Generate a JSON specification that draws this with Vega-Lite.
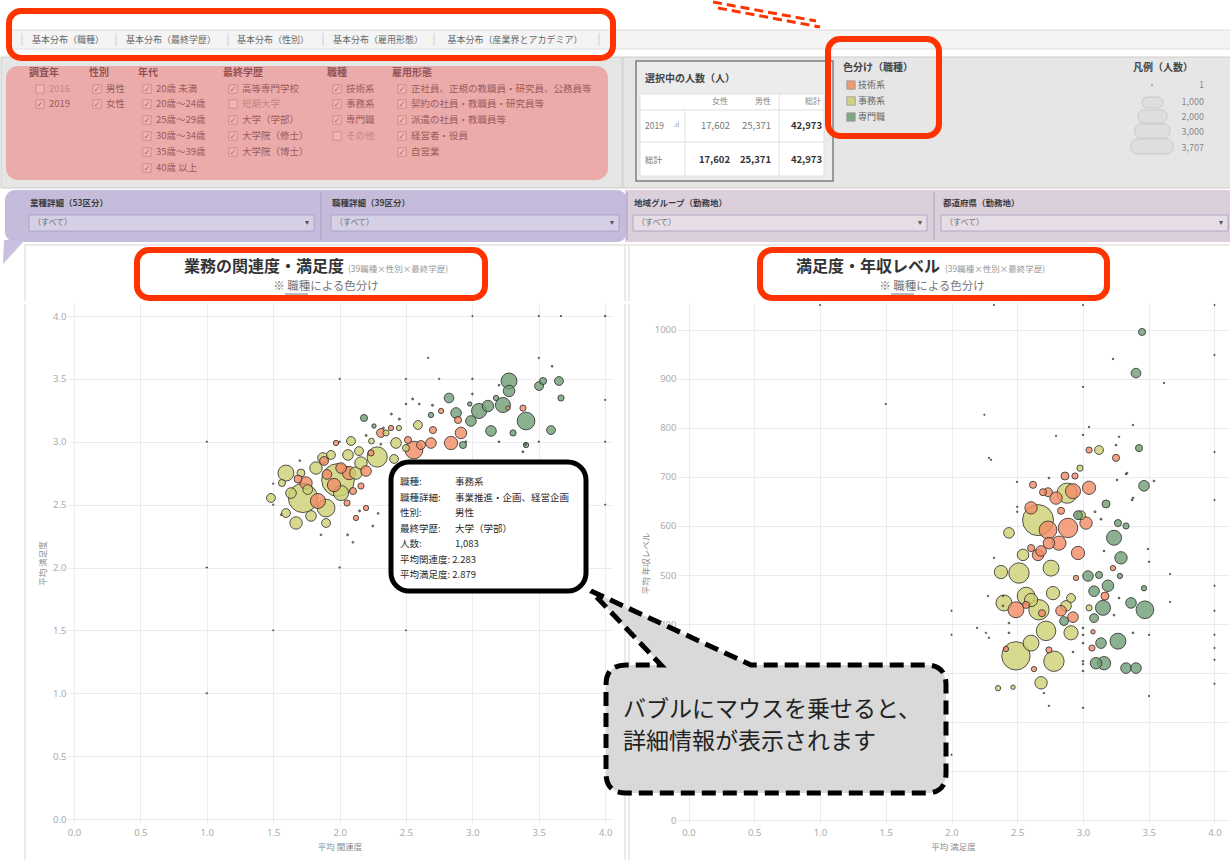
{
"$schema": "https://vega.github.io/schema/vega-lite/v6.json",
"padding": 0,
"background": "white",
"spacing": 0,
"config": {
  "view": {"stroke": null},
  "font": "Noto Sans CJK JP",
  "axis": {"domain": false, "ticks": false, "grid": true, "gridColor": "#ececec", "labelColor": "#ababab", "labelFont": "Noto Sans", "labelFontSize": 9.5, "labelOverlap": false, "titleColor": "#8a8a8a", "titleFontSize": 8.5, "titleFontWeight": "normal", "titleFont": "Noto Sans CJK JP"}
},
"datasets": {
  "filters": [
    {"x":48,"y":87,"t":"2016","on":"n"},
    {"x":48,"y":102,"t":"2019","on":"y"},
    {"x":105,"y":87,"t":"男性","on":"y"},
    {"x":105,"y":102,"t":"女性","on":"y"},
    {"x":155,"y":87,"t":"20歳 未満","on":"y"},
    {"x":155,"y":102,"t":"20歳～24歳","on":"y"},
    {"x":155,"y":118,"t":"25歳～29歳","on":"y"},
    {"x":155,"y":134,"t":"30歳～34歳","on":"y"},
    {"x":155,"y":150,"t":"35歳～39歳","on":"y"},
    {"x":155,"y":166,"t":"40歳 以上","on":"y"},
    {"x":241,"y":87,"t":"高等専門学校","on":"y"},
    {"x":241,"y":102,"t":"短期大学","on":"n"},
    {"x":241,"y":118,"t":"大学（学部）","on":"y"},
    {"x":241,"y":134,"t":"大学院（修士）","on":"y"},
    {"x":241,"y":150,"t":"大学院（博士）","on":"y"},
    {"x":345,"y":87,"t":"技術系","on":"y"},
    {"x":345,"y":102,"t":"事務系","on":"y"},
    {"x":345,"y":118,"t":"専門職","on":"y"},
    {"x":345,"y":134,"t":"その他","on":"n"},
    {"x":410,"y":87,"t":"正社員、正規の教職員・研究員、公務員等","on":"y"},
    {"x":410,"y":102,"t":"契約の社員・教職員・研究員等","on":"y"},
    {"x":410,"y":118,"t":"派遣の社員・教職員等","on":"y"},
    {"x":410,"y":134,"t":"経営者・役員","on":"y"},
    {"x":410,"y":150,"t":"自営業","on":"y"}
  ],
  "left": [
    {"job":"事務系","rel":1.724,"sat":2.553,"n":2265},
    {"job":"事務系","rel":1.988,"sat":2.696,"n":2847},
    {"job":"事務系","rel":2.011,"sat":2.592,"n":601},
    {"job":"事務系","rel":1.785,"sat":2.41,"n":300},
    {"job":"事務系","rel":2.063,"sat":2.895,"n":300},
    {"job":"事務系","rel":2.146,"sat":2.926,"n":208},
    {"job":"事務系","rel":2.283,"sat":2.879,"n":1083},
    {"job":"事務系","rel":2.59,"sat":3.133,"n":208},
    {"job":"事務系","rel":2.349,"sat":3.07,"n":102},
    {"job":"事務系","rel":2.447,"sat":3.109,"n":75},
    {"job":"事務系","rel":1.875,"sat":2.871,"n":300},
    {"job":"事務系","rel":1.935,"sat":2.895,"n":208},
    {"job":"事務系","rel":1.634,"sat":2.592,"n":300},
    {"job":"事務系","rel":1.596,"sat":2.433,"n":208},
    {"job":"事務系","rel":1.822,"sat":2.791,"n":408},
    {"job":"事務系","rel":2.123,"sat":2.751,"n":408},
    {"job":"事務系","rel":1.898,"sat":2.354,"n":208},
    {"job":"事務系","rel":1.709,"sat":2.751,"n":168},
    {"job":"事務系","rel":2.41,"sat":2.863,"n":208},
    {"job":"事務系","rel":2.5,"sat":2.95,"n":133},
    {"job":"事務系","rel":1.566,"sat":2.672,"n":133},
    {"job":"事務系","rel":2.24,"sat":3.005,"n":90},
    {"job":"事務系","rel":1.76,"sat":2.62,"n":250},
    {"job":"事務系","rel":1.596,"sat":2.751,"n":674},
    {"job":"事務系","rel":1.898,"sat":2.473,"n":832},
    {"job":"事務系","rel":1.672,"sat":2.354,"n":408},
    {"job":"事務系","rel":2.161,"sat":2.831,"n":408},
    {"job":"事務系","rel":2.425,"sat":2.99,"n":300},
    {"job":"事務系","rel":2.086,"sat":3.006,"n":208},
    {"job":"事務系","rel":1.483,"sat":2.553,"n":208},
    {"job":"技術系","rel":1.837,"sat":2.529,"n":601},
    {"job":"技術系","rel":1.958,"sat":2.656,"n":468},
    {"job":"技術系","rel":2.071,"sat":2.751,"n":468},
    {"job":"技術系","rel":1.883,"sat":2.847,"n":208},
    {"job":"技術系","rel":2.199,"sat":2.767,"n":300},
    {"job":"技術系","rel":1.687,"sat":2.704,"n":168},
    {"job":"技術系","rel":2.101,"sat":2.608,"n":133},
    {"job":"技術系","rel":2.161,"sat":2.648,"n":102},
    {"job":"技術系","rel":2.236,"sat":2.911,"n":102},
    {"job":"技術系","rel":2.56,"sat":2.934,"n":832},
    {"job":"技術系","rel":2.515,"sat":3.014,"n":133},
    {"job":"技術系","rel":2.613,"sat":2.974,"n":208},
    {"job":"技術系","rel":2.764,"sat":3.245,"n":75},
    {"job":"技術系","rel":2.839,"sat":2.99,"n":468},
    {"job":"技術系","rel":2.914,"sat":3.07,"n":352},
    {"job":"技術系","rel":2.892,"sat":3.173,"n":133},
    {"job":"技術系","rel":3.381,"sat":3.268,"n":102},
    {"job":"技術系","rel":3.268,"sat":3.268,"n":52},
    {"job":"技術系","rel":2.387,"sat":3.109,"n":75},
    {"job":"技術系","rel":1.973,"sat":2.99,"n":75},
    {"job":"技術系","rel":2.056,"sat":2.513,"n":102},
    {"job":"技術系","rel":2.123,"sat":2.394,"n":75},
    {"job":"技術系","rel":2.199,"sat":2.473,"n":75},
    {"job":"技術系","rel":2.703,"sat":3.093,"n":133},
    {"job":"技術系","rel":1.905,"sat":2.74,"n":250},
    {"job":"技術系","rel":1.747,"sat":2.672,"n":408},
    {"job":"技術系","rel":2.011,"sat":2.791,"n":300},
    {"job":"技術系","rel":2.688,"sat":2.99,"n":300},
    {"job":"技術系","rel":2.312,"sat":3.07,"n":208},
    {"job":"専門職","rel":3.276,"sat":3.483,"n":674},
    {"job":"専門職","rel":3.276,"sat":3.404,"n":352},
    {"job":"専門職","rel":3.502,"sat":3.443,"n":208},
    {"job":"専門職","rel":3.532,"sat":3.483,"n":133},
    {"job":"専門職","rel":3.652,"sat":3.483,"n":208},
    {"job":"専門職","rel":3.667,"sat":3.348,"n":102},
    {"job":"専門職","rel":2.824,"sat":3.348,"n":250},
    {"job":"専門職","rel":3.05,"sat":3.245,"n":601},
    {"job":"専門職","rel":3.117,"sat":3.284,"n":352},
    {"job":"専門職","rel":3.23,"sat":3.292,"n":601},
    {"job":"専門職","rel":2.989,"sat":3.165,"n":300},
    {"job":"専門職","rel":3.404,"sat":3.165,"n":832},
    {"job":"専門職","rel":3.14,"sat":3.086,"n":300},
    {"job":"専門職","rel":3.592,"sat":3.093,"n":208},
    {"job":"専門職","rel":2.929,"sat":2.974,"n":133},
    {"job":"専門職","rel":2.184,"sat":3.189,"n":133},
    {"job":"専門職","rel":2.259,"sat":3.125,"n":52},
    {"job":"専門職","rel":3.404,"sat":2.974,"n":75},
    {"job":"専門職","rel":3.306,"sat":3.07,"n":102},
    {"job":"専門職","rel":3.178,"sat":3.348,"n":75},
    {"job":"専門職","rel":2.688,"sat":3.213,"n":75},
    {"job":"専門職","rel":2.98,"sat":3.3,"n":52},
    {"job":"専門職","rel":2.877,"sat":3.229,"n":300},
    {"job":"事務系","rel":1.0,"sat":3.0,"n":5},
    {"job":"技術系","rel":1.0,"sat":2.0,"n":5},
    {"job":"事務系","rel":2.0,"sat":2.0,"n":6},
    {"job":"技術系","rel":1.5,"sat":1.5,"n":4},
    {"job":"事務系","rel":2.5,"sat":1.5,"n":4},
    {"job":"技術系","rel":1.0,"sat":1.0,"n":5},
    {"job":"専門職","rel":2.0,"sat":3.5,"n":5},
    {"job":"事務系","rel":2.0,"sat":3.0,"n":6},
    {"job":"専門職","rel":2.5,"sat":3.5,"n":5},
    {"job":"技術系","rel":2.75,"sat":3.5,"n":5},
    {"job":"専門職","rel":3.0,"sat":3.5,"n":6},
    {"job":"専門職","rel":2.667,"sat":3.667,"n":5},
    {"job":"専門職","rel":3.5,"sat":3.667,"n":5},
    {"job":"専門職","rel":4.0,"sat":3.333,"n":5},
    {"job":"技術系","rel":4.0,"sat":3.0,"n":5},
    {"job":"事務系","rel":4.0,"sat":2.5,"n":4},
    {"job":"専門職","rel":3.0,"sat":4.0,"n":4},
    {"job":"専門職","rel":3.5,"sat":4.0,"n":5},
    {"job":"技術系","rel":3.667,"sat":4.0,"n":5},
    {"job":"専門職","rel":4.0,"sat":4.0,"n":6},
    {"job":"事務系","rel":1.5,"sat":2.667,"n":6},
    {"job":"事務系","rel":1.5,"sat":2.5,"n":6},
    {"job":"技術系","rel":1.56,"sat":2.42,"n":8},
    {"job":"事務系","rel":1.86,"sat":2.26,"n":8},
    {"job":"技術系","rel":2.06,"sat":2.26,"n":10},
    {"job":"事務系","rel":2.1,"sat":2.2,"n":8},
    {"job":"技術系","rel":2.25,"sat":2.33,"n":9},
    {"job":"専門職","rel":3.5,"sat":3.0,"n":6},
    {"job":"専門職","rel":3.4,"sat":2.98,"n":10},
    {"job":"専門職","rel":3.2,"sat":3.0,"n":8},
    {"job":"専門職","rel":3.38,"sat":2.92,"n":10},
    {"job":"専門職","rel":3.6,"sat":3.6,"n":8},
    {"job":"専門職","rel":3.2,"sat":3.45,"n":8},
    {"job":"専門職","rel":3.0,"sat":3.38,"n":8},
    {"job":"技術系","rel":2.5,"sat":3.3,"n":8},
    {"job":"技術系","rel":2.39,"sat":3.22,"n":10},
    {"job":"専門職","rel":2.6,"sat":3.3,"n":8},
    {"job":"事務系","rel":2.31,"sat":2.98,"n":10},
    {"job":"技術系","rel":2.15,"sat":2.45,"n":10},
    {"job":"事務系","rel":2.29,"sat":2.43,"n":8},
    {"job":"技術系","rel":2.38,"sat":2.5,"n":8},
    {"job":"専門職","rel":2.55,"sat":3.34,"n":10},
    {"job":"専門職","rel":2.7,"sat":3.29,"n":12},
    {"job":"技術系","rel":2.45,"sat":3.18,"n":12},
    {"job":"事務系","rel":2.33,"sat":3.11,"n":10},
    {"job":"専門職","rel":2.95,"sat":3.0,"n":10},
    {"job":"技術系","rel":2.2,"sat":3.05,"n":10},
    {"job":"事務系","rel":1.7,"sat":2.85,"n":8}
  ],
  "right": [
    {"job":"事務系","sat":2.658,"inc":612,"n":2548},
    {"job":"事務系","sat":2.879,"inc":667,"n":1083},
    {"job":"事務系","sat":2.977,"inc":718,"n":102},
    {"job":"事務系","sat":3.122,"inc":755,"n":208},
    {"job":"事務系","sat":2.49,"inc":335,"n":2130},
    {"job":"事務系","sat":2.605,"inc":361,"n":674},
    {"job":"事務系","sat":2.779,"inc":324,"n":1100},
    {"job":"事務系","sat":2.719,"inc":386,"n":1007},
    {"job":"事務系","sat":2.665,"inc":429,"n":1100},
    {"job":"事務系","sat":2.567,"inc":457,"n":832},
    {"job":"事務系","sat":2.605,"inc":449,"n":468},
    {"job":"事務系","sat":2.772,"inc":463,"n":468},
    {"job":"事務系","sat":2.871,"inc":437,"n":300},
    {"job":"事務系","sat":2.909,"inc":453,"n":208},
    {"job":"事務系","sat":2.513,"inc":504,"n":1100},
    {"job":"事務系","sat":2.376,"inc":506,"n":468},
    {"job":"事務系","sat":2.544,"inc":541,"n":352},
    {"job":"事務系","sat":2.354,"inc":269,"n":75},
    {"job":"事務系","sat":2.468,"inc":271,"n":52},
    {"job":"事務系","sat":2.985,"inc":622,"n":208},
    {"job":"事務系","sat":3.046,"inc":433,"n":102},
    {"job":"事務系","sat":2.757,"inc":514,"n":674},
    {"job":"事務系","sat":2.399,"inc":443,"n":674},
    {"job":"事務系","sat":2.681,"inc":280,"n":408},
    {"job":"事務系","sat":2.909,"inc":382,"n":532},
    {"job":"事務系","sat":2.437,"inc":586,"n":300},
    {"job":"技術系","sat":2.734,"inc":592,"n":832},
    {"job":"技術系","sat":2.886,"inc":596,"n":1007},
    {"job":"技術系","sat":2.924,"inc":671,"n":601},
    {"job":"技術系","sat":3.046,"inc":678,"n":468},
    {"job":"技術系","sat":2.734,"inc":669,"n":208},
    {"job":"技術系","sat":2.696,"inc":669,"n":133},
    {"job":"技術系","sat":2.62,"inc":684,"n":133},
    {"job":"技術系","sat":2.863,"inc":702,"n":168},
    {"job":"技術系","sat":2.939,"inc":702,"n":102},
    {"job":"技術系","sat":3.046,"inc":755,"n":102},
    {"job":"技術系","sat":3.251,"inc":739,"n":133},
    {"job":"技術系","sat":2.833,"inc":631,"n":133},
    {"job":"技術系","sat":2.741,"inc":565,"n":352},
    {"job":"技術系","sat":2.962,"inc":545,"n":468},
    {"job":"技術系","sat":2.658,"inc":541,"n":352},
    {"job":"技術系","sat":2.681,"inc":549,"n":300},
    {"job":"技術系","sat":2.49,"inc":429,"n":674},
    {"job":"技術系","sat":2.567,"inc":439,"n":133},
    {"job":"技術系","sat":2.833,"inc":427,"n":300},
    {"job":"技術系","sat":2.924,"inc":414,"n":300},
    {"job":"技術系","sat":2.688,"inc":422,"n":133},
    {"job":"技術系","sat":2.741,"inc":347,"n":102},
    {"job":"技術系","sat":2.414,"inc":349,"n":75},
    {"job":"技術系","sat":2.627,"inc":308,"n":75},
    {"job":"技術系","sat":3.228,"inc":514,"n":75},
    {"job":"技術系","sat":2.947,"inc":494,"n":75},
    {"job":"技術系","sat":3.167,"inc":457,"n":168},
    {"job":"技術系","sat":3.076,"inc":384,"n":52},
    {"job":"技術系","sat":3.068,"inc":351,"n":102},
    {"job":"技術系","sat":2.605,"inc":555,"n":133},
    {"job":"技術系","sat":2.817,"inc":565,"n":532},
    {"job":"技術系","sat":3.023,"inc":606,"n":408},
    {"job":"技術系","sat":2.605,"inc":637,"n":408},
    {"job":"技術系","sat":2.795,"inc":657,"n":408},
    {"job":"専門職","sat":3.426,"inc":759,"n":133},
    {"job":"専門職","sat":3.464,"inc":682,"n":300},
    {"job":"専門職","sat":3.175,"inc":645,"n":168},
    {"job":"専門職","sat":2.962,"inc":622,"n":208},
    {"job":"専門職","sat":3.266,"inc":606,"n":133},
    {"job":"専門職","sat":3.327,"inc":600,"n":102},
    {"job":"専門職","sat":3.236,"inc":576,"n":601},
    {"job":"専門職","sat":3.038,"inc":498,"n":300},
    {"job":"専門職","sat":3.122,"inc":500,"n":133},
    {"job":"専門職","sat":3.281,"inc":498,"n":75},
    {"job":"専門職","sat":3.19,"inc":478,"n":352},
    {"job":"専門職","sat":3.084,"inc":467,"n":300},
    {"job":"専門職","sat":3.464,"inc":473,"n":75},
    {"job":"専門職","sat":3.152,"inc":433,"n":601},
    {"job":"専門職","sat":3.084,"inc":412,"n":208},
    {"job":"専門職","sat":3.471,"inc":429,"n":832},
    {"job":"専門職","sat":3.266,"inc":365,"n":674},
    {"job":"専門職","sat":3.099,"inc":320,"n":352},
    {"job":"専門職","sat":3.16,"inc":320,"n":468},
    {"job":"専門職","sat":3.327,"inc":310,"n":300},
    {"job":"専門職","sat":3.403,"inc":310,"n":300},
    {"job":"専門職","sat":3.449,"inc":996,"n":133},
    {"job":"専門職","sat":3.403,"inc":912,"n":250},
    {"job":"専門職","sat":2.856,"inc":406,"n":208},
    {"job":"専門職","sat":3.289,"inc":535,"n":408},
    {"job":"専門職","sat":3.365,"inc":443,"n":300},
    {"job":"専門職","sat":3.137,"inc":361,"n":300},
    {"job":"専門職","sat":3.046,"inc":802,"n":6},
    {"job":"専門職","sat":3.38,"inc":806,"n":6},
    {"job":"技術系","sat":2.795,"inc":784,"n":5},
    {"job":"専門職","sat":3.0,"inc":786,"n":6},
    {"job":"技術系","sat":3.274,"inc":782,"n":6},
    {"job":"専門職","sat":3.251,"inc":765,"n":8},
    {"job":"専門職","sat":4.0,"inc":751,"n":5},
    {"job":"技術系","sat":4.0,"inc":653,"n":5},
    {"job":"事務系","sat":2.285,"inc":739,"n":5},
    {"job":"事務系","sat":2.498,"inc":690,"n":6},
    {"job":"事務系","sat":2.5,"inc":639,"n":6},
    {"job":"技術系","sat":2.5,"inc":629,"n":6},
    {"job":"技術系","sat":2.741,"inc":698,"n":8},
    {"job":"専門職","sat":3.327,"inc":706,"n":8},
    {"job":"専門職","sat":3.54,"inc":692,"n":8},
    {"job":"専門職","sat":3.38,"inc":657,"n":8},
    {"job":"技術系","sat":3.091,"inc":629,"n":10},
    {"job":"専門職","sat":3.137,"inc":614,"n":10},
    {"job":"専門職","sat":3.494,"inc":553,"n":6},
    {"job":"技術系","sat":3.16,"inc":549,"n":8},
    {"job":"事務系","sat":2.323,"inc":535,"n":6},
    {"job":"専門職","sat":3.502,"inc":527,"n":6},
    {"job":"専門職","sat":3.662,"inc":502,"n":5},
    {"job":"専門職","sat":4.0,"inc":478,"n":5},
    {"job":"専門職","sat":3.662,"inc":445,"n":5},
    {"job":"技術系","sat":4.0,"inc":427,"n":5},
    {"job":"事務系","sat":2.278,"inc":457,"n":6},
    {"job":"事務系","sat":2.392,"inc":457,"n":6},
    {"job":"技術系","sat":2.392,"inc":437,"n":8},
    {"job":"事務系","sat":2.437,"inc":402,"n":8},
    {"job":"事務系","sat":2.262,"inc":382,"n":6},
    {"job":"技術系","sat":2.437,"inc":382,"n":8},
    {"job":"専門職","sat":3.0,"inc":392,"n":8},
    {"job":"技術系","sat":3.0,"inc":378,"n":8},
    {"job":"専門職","sat":3.0,"inc":361,"n":8},
    {"job":"事務系","sat":3.0,"inc":324,"n":8},
    {"job":"専門職","sat":3.0,"inc":304,"n":8},
    {"job":"専門職","sat":3.38,"inc":382,"n":8},
    {"job":"専門職","sat":3.502,"inc":378,"n":6},
    {"job":"専門職","sat":4.0,"inc":378,"n":5},
    {"job":"技術系","sat":4.0,"inc":351,"n":5},
    {"job":"専門職","sat":4.0,"inc":327,"n":5},
    {"job":"事務系","sat":4.0,"inc":278,"n":5},
    {"job":"専門職","sat":3.502,"inc":253,"n":5},
    {"job":"事務系","sat":2.703,"inc":259,"n":6},
    {"job":"技術系","sat":2.924,"inc":343,"n":8},
    {"job":"専門職","sat":3.274,"inc":453,"n":8},
    {"job":"専門職","sat":3.236,"inc":418,"n":8},
    {"job":"技術系","sat":1.5,"inc":849,"n":5},
    {"job":"事務系","sat":2.25,"inc":827,"n":5},
    {"job":"技術系","sat":2.3,"inc":735,"n":6},
    {"job":"専門職","sat":3.0,"inc":884,"n":5},
    {"job":"専門職","sat":3.228,"inc":941,"n":6},
    {"job":"専門職","sat":3.616,"inc":892,"n":5},
    {"job":"専門職","sat":4.0,"inc":949,"n":5},
    {"job":"技術系","sat":2.323,"inc":1051,"n":4},
    {"job":"専門職","sat":3.0,"inc":1051,"n":4},
    {"job":"専門職","sat":4.0,"inc":1051,"n":4},
    {"job":"事務系","sat":1.0,"inc":1051,"n":4},
    {"job":"事務系","sat":2.0,"inc":133,"n":5},
    {"job":"専門職","sat":3.373,"inc":653,"n":8},
    {"job":"専門職","sat":3.259,"inc":694,"n":8},
    {"job":"技術系","sat":3.335,"inc":708,"n":8},
    {"job":"事務系","sat":2.0,"inc":427,"n":5},
    {"job":"事務系","sat":2.0,"inc":378,"n":5},
    {"job":"事務系","sat":2.194,"inc":392,"n":6},
    {"job":"事務系","sat":2.285,"inc":372,"n":6},
    {"job":"技術系","sat":2.741,"inc":233,"n":6},
    {"job":"専門職","sat":3.0,"inc":229,"n":6},
    {"job":"専門職","sat":3.0,"inc":318,"n":6}
  ]
},
"vconcat": [
  {
    "width": 1230,
    "height": 300,
    "encoding": {
      "x": {"field": "x", "type": "quantitative", "scale": {"domain": [0, 1230], "nice": false, "zero": false}, "axis": null},
      "y": {"field": "y", "type": "quantitative", "scale": {"domain": [0, 300], "nice": false, "zero": false, "reverse": true}, "axis": null}
    },
    "layer": [
      {"data": {"values": [{"x":0,"x2":621,"y":55,"y2":186},{"x":622,"x2":1230,"y":55,"y2":186}]},
       "mark": {"type": "rect", "fill": "#e6e6e6", "stroke": "#cccccc", "strokeWidth": 1},
       "encoding": {"x2": {"field": "x2"}, "y2": {"field": "y2"}}},
      {"data": {"values": [{"x":10,"x2":1230,"y":28,"y2":47}]},
       "mark": {"type": "rect", "fill": "#f4f4f4", "stroke": "#dddddd", "strokeWidth": 1},
       "encoding": {"x2": {"field": "x2"}, "y2": {"field": "y2"}}},
      {"data": {"values": [{"x":21,"y":31,"y2":44},{"x":115,"y":31,"y2":44},{"x":227,"y":31,"y2":44},{"x":322,"y":31,"y2":44},{"x":433,"y":31,"y2":44},{"x":598,"y":31,"y2":44}]},
       "mark": {"type": "rule", "color": "#d0d0d0", "strokeWidth": 1},
       "encoding": {"y2": {"field": "y2"}}},
      {"data": {"values": [{"x":67,"y":38,"t":"基本分布（職種）"},{"x":170,"y":38,"t":"基本分布（最終学歴）"},{"x":272,"y":38,"t":"基本分布（性別）"},{"x":377,"y":38,"t":"基本分布（雇用形態）"},{"x":514,"y":38,"t":"基本分布（産業界とアカデミア）"}]},
       "mark": {"type": "text", "fontSize": 9, "color": "#666666", "align": "center", "baseline": "middle"},
       "encoding": {"text": {"field": "t"}}},
      {"data": {"values": [{"x":28,"y":71,"t":"調査年"},{"x":88,"y":71,"t":"性別"},{"x":137,"y":71,"t":"年代"},{"x":222,"y":71,"t":"最終学歴"},{"x":326,"y":71,"t":"職種"},{"x":391,"y":71,"t":"雇用形態"}]},
       "mark": {"type": "text", "fontSize": 10, "fontWeight": "bold", "color": "#333333", "align": "left", "baseline": "middle"},
       "encoding": {"text": {"field": "t"}}},
      {"data": {"name": "filters"},
       "transform": [{"filter": "datum.on == 'y'"}],
       "mark": {"type": "text", "fontSize": 9.5, "color": "#444444", "align": "left", "baseline": "middle"},
       "encoding": {"text": {"field": "t"}}},
      {"data": {"name": "filters"},
       "transform": [{"filter": "datum.on == 'n'"}],
       "mark": {"type": "text", "fontSize": 9.5, "color": "#999999", "align": "left", "baseline": "middle"},
       "encoding": {"text": {"field": "t"}}},
      {"data": {"name": "filters"},
       "mark": {"type": "point", "shape": "square", "size": 70, "filled": true, "fill": "#f8f8f8", "stroke": "#9a9a9a", "strokeWidth": 0.8, "opacity": 1, "xOffset": -9}},
      {"data": {"name": "filters"},
       "transform": [{"filter": "datum.on == 'y'"}],
       "mark": {"type": "text", "text": "✓", "font": "DejaVu Sans", "fontSize": 8.5, "color": "#666666", "align": "center", "baseline": "middle", "xOffset": -9}},
      {"data": {"values": [{"x":5,"x2":607,"y":64,"y2":178}]},
       "mark": {"type": "rect", "fill": "#f07070", "opacity": 0.5, "cornerRadius": 12},
       "encoding": {"x2": {"field": "x2"}, "y2": {"field": "y2"}}},
      {"data": {"values": [{"x":635,"x2":832,"y":59,"y2":179}]},
       "mark": {"type": "rect", "fill": "#ececec", "stroke": "#7d7d7d", "strokeWidth": 1.5},
       "encoding": {"x2": {"field": "x2"}, "y2": {"field": "y2"}}},
      {"data": {"values": [{"x":639,"x2":823,"y":92,"y2":174}]},
       "mark": {"type": "rect", "fill": "#ffffff", "stroke": "#e0e0e0", "strokeWidth": 1},
       "encoding": {"x2": {"field": "x2"}, "y2": {"field": "y2"}}},
      {"data": {"values": [{"x":639,"x2":823,"y":108,"y2":108},{"x":639,"x2":823,"y":140,"y2":140},{"x":684,"x2":684,"y":108,"y2":174},{"x":778,"x2":778,"y":92,"y2":174}]},
       "mark": {"type": "rule", "color": "#e0e0e0", "strokeWidth": 1},
       "encoding": {"x2": {"field": "x2"}, "y2": {"field": "y2"}}},
      {"data": {"values": [{"x":644,"y":77,"t":"選択中の人数（人）"},{"x":842,"y":66,"t":"色分け（職種）"}]},
       "mark": {"type": "text", "fontSize": 10, "fontWeight": "bold", "color": "#444444", "align": "left", "baseline": "middle"},
       "encoding": {"text": {"field": "t"}}},
      {"data": {"values": [{"x":1192,"y":66,"t":"凡例（人数）"}]},
       "mark": {"type": "text", "fontSize": 10, "fontWeight": "bold", "color": "#444444", "align": "right", "baseline": "middle"},
       "encoding": {"text": {"field": "t"}}},
      {"data": {"values": [{"x":727,"y":100,"t":"女性"},{"x":770,"y":100,"t":"男性"},{"x":820,"y":100,"t":"総計"}]},
       "mark": {"type": "text", "fontSize": 8, "color": "#888888", "align": "right", "baseline": "middle"},
       "encoding": {"text": {"field": "t"}}},
      {"data": {"values": [{"x":729,"y":124,"t":"17,602"},{"x":770,"y":124,"t":"25,371"}]},
       "mark": {"type": "text", "fontSize": 9.5, "color": "#777777", "align": "right", "baseline": "middle"},
       "encoding": {"text": {"field": "t"}}},
      {"data": {"values": [{"x":821,"y":124,"t":"42,973"},{"x":729,"y":158,"t":"17,602"},{"x":770,"y":158,"t":"25,371"},{"x":821,"y":158,"t":"42,973"}]},
       "mark": {"type": "text", "fontSize": 9.5, "fontWeight": "bold", "color": "#333333", "align": "right", "baseline": "middle"},
       "encoding": {"text": {"field": "t"}}},
      {"data": {"values": [{"x":644,"y":124,"t":"2019"},{"x":644,"y":158,"t":"総計"}]},
       "mark": {"type": "text", "fontSize": 8.5, "color": "#777777", "align": "left", "baseline": "middle"},
       "encoding": {"text": {"field": "t"}}},
      {"data": {"values": [{"x":672,"y":123,"t":".ıl"}]},
       "mark": {"type": "text", "fontSize": 7, "font": "DejaVu Sans", "color": "#888888", "align": "left", "baseline": "middle"},
       "encoding": {"text": {"field": "t"}}},
      {"data": {"values": [{"x":850,"y":83,"job":"技術系"},{"x":850,"y":99,"job":"事務系"},{"x":850,"y":115,"job":"専門職"}]},
       "mark": {"type": "point", "shape": "square", "size": 70, "filled": true, "opacity": 0.85, "stroke": "#888888", "strokeWidth": 0.8},
       "encoding": {"color": {"field": "job", "type": "nominal", "scale": {"domain": ["技術系","事務系","専門職"], "range": ["#f28b64","#cdd072","#6f9e74"]}, "legend": null}}},
      {"data": {"values": [{"x":857,"y":83,"t":"技術系"},{"x":857,"y":99,"t":"事務系"},{"x":857,"y":115,"t":"専門職"}]},
       "mark": {"type": "text", "fontSize": 9, "color": "#666666", "align": "left", "baseline": "middle"},
       "encoding": {"text": {"field": "t"}}},
      {"data": {"values": [{"x":1130,"x2":1172,"y":137,"y2":152},{"x":1134,"x2":1169,"y":122,"y2":136},{"x":1137,"x2":1166,"y":108,"y2":121},{"x":1141,"x2":1162,"y":95,"y2":106}]},
       "mark": {"type": "rect", "fill": "#dedede", "stroke": "#c8c8c8", "strokeWidth": 1, "cornerRadius": 6},
       "encoding": {"x2": {"field": "x2"}, "y2": {"field": "y2"}}},
      {"data": {"values": [{"x":1151,"y":83}]},
       "mark": {"type": "circle", "size": 4, "color": "#999999", "opacity": 1}},
      {"data": {"values": [{"x":1203,"y":83,"t":"1"},{"x":1203,"y":100,"t":"1,000"},{"x":1203,"y":115,"t":"2,000"},{"x":1203,"y":130,"t":"3,000"},{"x":1203,"y":146,"t":"3,707"}]},
       "mark": {"type": "text", "fontSize": 9, "color": "#888888", "align": "right", "baseline": "middle"},
       "encoding": {"text": {"field": "t"}}},
      {"data": {"values": [{"x":624,"x2":1230,"y":188,"y2":240}]},
       "mark": {"type": "rect", "fill": "#dccfdc"},
       "encoding": {"x2": {"field": "x2"}, "y2": {"field": "y2"}}},
      {"data": {"values": [{"x":4,"x2":626,"y":188,"y2":240}]},
       "mark": {"type": "rect", "fill": "#c5bcdb", "cornerRadius": 10},
       "encoding": {"x2": {"field": "x2"}, "y2": {"field": "y2"}}},
      {"data": {"values": [{"x":320,"y":190,"y2":238},{"x":626,"y":190,"y2":238},{"x":933,"y":190,"y2":238}]},
       "mark": {"type": "rule", "color": "#a89fc2", "strokeWidth": 1},
       "encoding": {"y2": {"field": "y2"}}},
      {"data": {"values": [{"x":29,"y":201,"t":"業種詳細（53区分）"},{"x":331,"y":201,"t":"職種詳細（39区分）"},{"x":633,"y":201,"t":"地域グループ（勤務地）"},{"x":942,"y":201,"t":"都道府県（勤務地）"}]},
       "mark": {"type": "text", "fontSize": 8.5, "fontWeight": "bold", "color": "#3c3c3c", "align": "left", "baseline": "middle"},
       "encoding": {"text": {"field": "t"}}},
      {"data": {"values": [{"x":28,"x2":313,"y":213,"y2":229},{"x":330,"x2":618,"y":213,"y2":229},{"x":632,"x2":926,"y":213,"y2":229},{"x":940,"x2":1227,"y":213,"y2":229}]},
       "mark": {"type": "rect", "fill": "#ffffff", "fillOpacity": 0.3, "stroke": "#a69dc0", "strokeWidth": 0.8},
       "encoding": {"x2": {"field": "x2"}, "y2": {"field": "y2"}}},
      {"data": {"values": [{"x":32,"y":221,"t":"（すべて）"},{"x":334,"y":221,"t":"（すべて）"},{"x":636,"y":221,"t":"（すべて）"},{"x":944,"y":221,"t":"（すべて）"}]},
       "mark": {"type": "text", "fontSize": 8, "color": "#666666", "align": "left", "baseline": "middle"},
       "encoding": {"text": {"field": "t"}}},
      {"data": {"values": [{"x":306,"y":221},{"x":611,"y":221},{"x":919,"y":221},{"x":1220,"y":221}]},
       "mark": {"type": "text", "text": "▾", "font": "DejaVu Sans", "fontSize": 8, "color": "#555555", "align": "center", "baseline": "middle"}},
      {"data": {"values": [{"x":12,"y":250}]},
       "mark": {"type": "point", "shape": "M -0.75 -1 L 1 -1 L -0.833 1 Z", "size": 576, "filled": true, "fill": "#c9c0df", "opacity": 1, "strokeWidth": 0}},
      {"data": {"values": [{"x":712,"y":0,"x2":815,"y2":19},{"x":717,"y":6,"x2":819,"y2":25}]},
       "mark": {"type": "rule", "color": "#ff3300", "strokeWidth": 3, "strokeDash": [9, 5]},
       "encoding": {"x2": {"field": "x2"}, "y2": {"field": "y2"}}},
      {"data": {"values": [{"x":24,"x2":24,"y":243,"y2":299},{"x":624,"x2":624,"y":243,"y2":299},{"x":628,"x2":628,"y":243,"y2":299},{"x":24,"x2":1230,"y":243,"y2":243}]},
       "mark": {"type": "rule", "color": "#d6d6d6", "strokeWidth": 1},
       "encoding": {"x2": {"field": "x2"}, "y2": {"field": "y2"}}},
      {"data": {"values": [{"x":343,"y":265,"t":"業務の関連度・満足度"},{"x":939,"y":265,"t":"満足度・年収レベル"}]},
       "mark": {"type": "text", "fontSize": 16, "fontWeight": "bold", "color": "#333333", "align": "right", "baseline": "middle"},
       "encoding": {"text": {"field": "t"}}},
      {"data": {"values": [{"x":347,"y":267,"t":"(39職種×性別×最終学歴)"},{"x":944,"y":267,"t":"(39職種×性別×最終学歴)"}]},
       "mark": {"type": "text", "fontSize": 8.5, "color": "#999999", "align": "left", "baseline": "middle"},
       "encoding": {"text": {"field": "t"}}},
      {"data": {"values": [{"x":325,"y":285,"t":"※ 職種による色分け"},{"x":931,"y":285,"t":"※ 職種による色分け"}]},
       "mark": {"type": "text", "fontSize": 11.5, "color": "#777777", "align": "center", "baseline": "middle"},
       "encoding": {"text": {"field": "t"}}},
      {"data": {"values": [{"x":284,"x2":307,"y":292,"y2":292},{"x":890,"x2":913,"y":292,"y2":292}]},
       "mark": {"type": "rule", "color": "#777777", "strokeWidth": 1},
       "encoding": {"x2": {"field": "x2"}, "y2": {"field": "y2"}}},
      {"data": {"values": [{"x":8,"x2":612,"y":9,"y2":56},{"x":827,"x2":938,"y":37,"y2":134},{"x":136,"x2":484,"y":248,"y2":296},{"x":759,"x2":1106,"y":248,"y2":296}]},
       "mark": {"type": "rect", "fill": "#ffffff", "fillOpacity": 0, "stroke": "#ff3300", "strokeWidth": 6, "cornerRadius": 12},
       "encoding": {"x2": {"field": "x2"}, "y2": {"field": "y2"}}}
    ]
  },
  {
    "hconcat": [
      {
        "width": 1,
        "height": 520,
        "data": {"values": [{"x":24,"y":301,"y2":860},{"x":624,"y":301,"y2":860},{"x":628,"y":301,"y2":860}]},
        "mark": {"type": "rule", "color": "#d6d6d6", "strokeWidth": 1, "clip": false},
        "encoding": {
          "x": {"field": "x", "type": "quantitative", "scale": {"domain": [0, 1], "nice": false, "zero": false}, "axis": null},
          "y": {"field": "y", "type": "quantitative", "scale": {"domain": [300, 820], "nice": false, "zero": false, "reverse": true}, "axis": null},
          "y2": {"field": "y2"}
        }
      },
      {
        "width": 545,
        "height": 520,
        "layer": [
          {
            "data": {"name": "left"},
            "mark": {"type": "circle", "opacity": 1, "fillOpacity": 0.8, "stroke": "#2e2e2e", "strokeWidth": 0.9, "strokeOpacity": 0.9},
            "encoding": {
              "x": {"field": "rel", "type": "quantitative", "title": "平均 関連度", "scale": {"domain": [-0.0527, 4.0512], "nice": false, "zero": false}, "axis": {"values": [0, 0.5, 1, 1.5, 2, 2.5, 3, 3.5, 4], "format": ".1f", "labelPadding": 4, "titlePadding": 6}},
              "y": {"field": "sat", "type": "quantitative", "title": "平均 満足度", "scale": {"domain": [-0.0318, 4.1034], "nice": false, "zero": false}, "axis": {"values": [0, 0.5, 1, 1.5, 2, 2.5, 3, 3.5, 4], "format": ".1f", "labelPadding": 1, "titlePadding": 5}},
              "size": {"field": "n", "type": "quantitative", "scale": {"domain": [0, 3707], "range": [0, 1400]}, "legend": null},
              "color": {"field": "job", "type": "nominal", "scale": {"domain": ["技術系","事務系","専門職"], "range": ["#f28b64","#cdd072","#6f9e74"]}, "legend": null},
              "order": {"field": "n", "sort": "descending"}
            }
          },
          {
            "encoding": {
              "x": {"field": "x", "type": "quantitative", "scale": {"domain": [66, 611], "nice": false, "zero": false}, "axis": null},
              "y": {"field": "y", "type": "quantitative", "scale": {"domain": [300, 820], "nice": false, "zero": false, "reverse": true}, "axis": null}
            },
            "layer": [
              {"data": {"values": [{"x":390,"x2":585,"y":459,"y2":588}]},
               "mark": {"type": "rect", "fill": "#ffffff", "stroke": "#000000", "strokeWidth": 5, "cornerRadius": 18, "clip": false},
               "encoding": {"x2": {"field": "x2"}, "y2": {"field": "y2"}}},
              {"data": {"values": [
                 {"x":399,"y":479,"t":"職種:"},{"x":399,"y":494.5,"t":"職種詳細:"},{"x":399,"y":510,"t":"性別:"},{"x":399,"y":525.5,"t":"最終学歴:"},{"x":399,"y":541,"t":"人数:"},{"x":399,"y":556.5,"t":"平均関連度: 2.283"},{"x":399,"y":572,"t":"平均満足度: 2.879"},
                 {"x":454,"y":479,"t":"事務系"},{"x":454,"y":494.5,"t":"事業推進・企画、経営企画"},{"x":454,"y":510,"t":"男性"},{"x":454,"y":525.5,"t":"大学（学部）"},{"x":454,"y":541,"t":"1,083"}]},
               "mark": {"type": "text", "fontSize": 9.5, "color": "#2a2a2a", "align": "left", "baseline": "middle", "clip": false},
               "encoding": {"text": {"field": "t"}}}
            ]
          }
        ],
        "resolve": {"scale": {"x": "independent", "y": "independent"}}
      },
      {
        "width": 552,
        "height": 520,
        "layer": [
          {
            "data": {"name": "right"},
            "mark": {"type": "circle", "opacity": 1, "fillOpacity": 0.8, "stroke": "#2e2e2e", "strokeWidth": 0.9, "strokeOpacity": 0.9},
            "encoding": {
              "x": {"field": "sat", "type": "quantitative", "title": "平均 満足度", "scale": {"domain": [-0.0875, 4.1103], "nice": false, "zero": false}, "axis": {"values": [0, 0.5, 1, 1.5, 2, 2.5, 3, 3.5, 4], "format": ".1f", "labelPadding": 4, "titlePadding": 6}},
              "y": {"field": "inc", "type": "quantitative", "title": "平均 年収レベル", "scale": {"domain": [-6.12, 1055.1], "nice": false, "zero": false}, "axis": {"values": [0, 100, 200, 300, 400, 500, 600, 700, 800, 900, 1000], "format": "d", "labelExpr": "datum.value >= 100 && datum.value <= 300 ? '' : datum.label", "labelPadding": 1, "titlePadding": 4}},
              "size": {"field": "n", "type": "quantitative", "scale": {"domain": [0, 3707], "range": [0, 1400]}, "legend": null},
              "color": {"field": "job", "type": "nominal", "scale": {"domain": ["技術系","事務系","専門職"], "range": ["#f28b64","#cdd072","#6f9e74"]}, "legend": null},
              "order": {"field": "n", "sort": "descending"}
            }
          },
          {
            "encoding": {
              "x": {"field": "x", "type": "quantitative", "scale": {"domain": [676, 1228], "nice": false, "zero": false}, "axis": null},
              "y": {"field": "y", "type": "quantitative", "scale": {"domain": [300, 820], "nice": false, "zero": false, "reverse": true}, "axis": null}
            },
            "layer": [
              {"data": {"values": [{"x":767.5,"y":689}]},
               "mark": {"type": "point", "shape": "M -1 -0.569 L -0.0986 -0.1521 L 0.8873 -0.1521 Q 1 -0.1521 1 -0.0394 L 1 0.4563 Q 1 0.569 0.8873 0.569 L -0.8028 0.569 Q -0.9155 0.569 -0.9155 0.4563 L -0.9155 -0.0394 Q -0.9155 -0.1521 -0.8028 -0.1521 L -0.6056 -0.1521 Z", "size": 126025, "filled": true, "fill": "#d9d9d9", "stroke": "#000000", "strokeWidth": 5, "strokeDash": [14, 7], "opacity": 1, "clip": false}},
              {"data": {"values": [{"x":622,"y":707,"t":"バブルにマウスを乗せると、"},{"x":622,"y":739,"t":"詳細情報が表示されます"}]},
               "mark": {"type": "text", "fontSize": 23, "color": "#222222", "align": "left", "baseline": "middle", "clip": false},
               "encoding": {"text": {"field": "t"}}}
            ]
          }
        ],
        "resolve": {"scale": {"x": "independent", "y": "independent"}}
      }
    ],
    "spacing": 65,
    "bounds": "flush"
  }
]
}
